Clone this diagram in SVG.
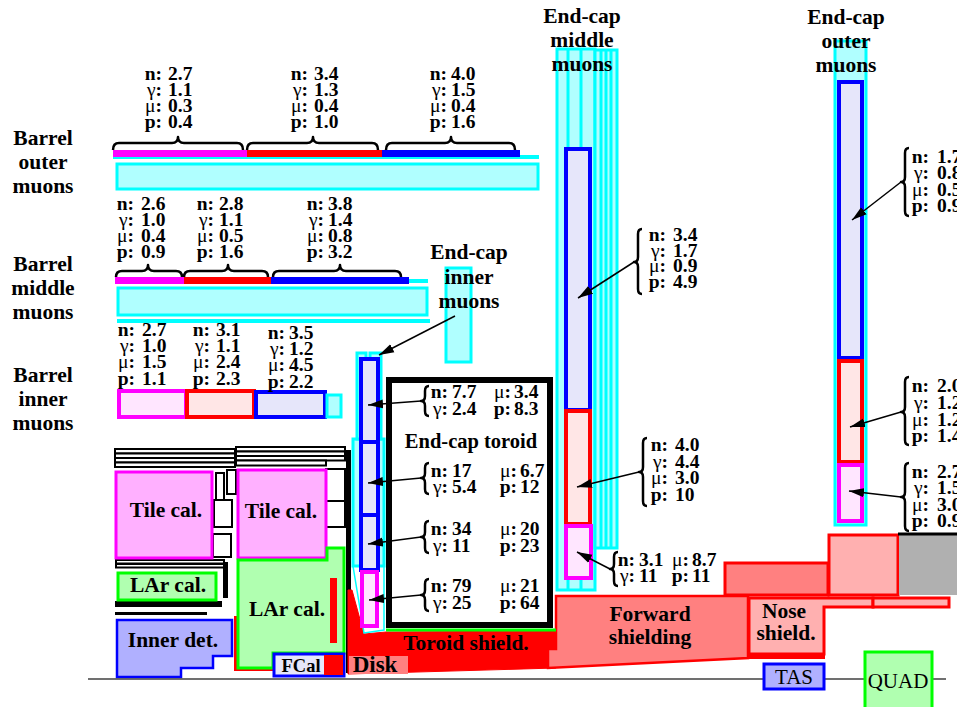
<svg xmlns="http://www.w3.org/2000/svg" width="957" height="707" viewBox="0 0 957 707">
<defs>
<marker id="ah" markerUnits="userSpaceOnUse" markerWidth="16" markerHeight="10" viewBox="0 0 16 10" refX="15" refY="5" orient="auto"><path d="M0,0.5 L15,5 L0,9.5 z" fill="#000"/></marker>
<style>
text{font-family:"Liberation Serif","Times New Roman",serif;font-weight:bold;fill:#000}
.lab{font-size:21.5px;text-anchor:middle}
.d{font-size:19.5px}
.e{text-anchor:end}
.g{font-weight:normal}
.pl{font-weight:normal;font-size:21px;text-anchor:middle}
.br{fill:none;stroke:#000;stroke-width:2.5;stroke-linejoin:round}
.ar{fill:none;stroke:#000;stroke-width:1.5;marker-end:url(#ah)}
.cy{fill:#b0ffff;stroke:#00ffff;stroke-width:3}
.cyl{stroke:#00ffff;stroke-width:3;fill:none}
.chb{fill:#e6e6fa;stroke:#0000ff;stroke-width:4}
.chr{fill:#ffe6e6;stroke:#ff0000;stroke-width:4}
.chm{fill:#ffe6ff;stroke:#ff00ff;stroke-width:4}
.bk{fill:#fff;stroke:#000;stroke-width:2}
</style>
</defs>
<rect width="957" height="707" fill="#fff"/>

<g id="barrel-outer">
<text class="lab" x="43" y="145">Barrel</text>
<text class="lab" x="43" y="169">outer</text>
<text class="lab" x="43" y="193">muons</text>
<line x1="113" y1="157" x2="539" y2="157" stroke="#00ffff" stroke-width="4"/>
<rect x="113" y="150" width="134" height="7" fill="#ff00ff"/>
<rect x="247" y="150" width="135" height="7" fill="#ff0000"/>
<rect x="382" y="150" width="138" height="7" fill="#0000ff"/>
<rect class="cy" x="117" y="164" width="421" height="25" stroke-width="4"/>
<path class="br" d="M113,150 Q113,143 119,143 L172,143 Q178,143 178,137 Q178,143 184,143 L237,143 Q243,143 243,150"/>
<path class="br" d="M247,150 Q247,143 253,143 L307,143 Q313,143 313,137 Q313,143 319,143 L372,143 Q378,143 378,150"/>
<path class="br" d="M386,150 Q386,143 392,143 L445,143 Q451,143 451,137 Q451,143 457,143 L509,143 Q515,143 515,150"/>
<text class="d e"><tspan x="162" y="80">n:</tspan><tspan x="162" y="96"><tspan class="g">γ</tspan>:</tspan><tspan x="162" y="112"><tspan class="g">μ</tspan>:</tspan><tspan x="162" y="128">p:</tspan></text>
<text class="d"><tspan x="168" y="80">2.7</tspan><tspan x="168" y="96">1.1</tspan><tspan x="168" y="112">0.3</tspan><tspan x="168" y="128">0.4</tspan></text>
<text class="d e"><tspan x="308" y="80">n:</tspan><tspan x="308" y="96"><tspan class="g">γ</tspan>:</tspan><tspan x="308" y="112"><tspan class="g">μ</tspan>:</tspan><tspan x="308" y="128">p:</tspan></text>
<text class="d"><tspan x="314" y="80">3.4</tspan><tspan x="314" y="96">1.3</tspan><tspan x="314" y="112">0.4</tspan><tspan x="314" y="128">1.0</tspan></text>
<text class="d e"><tspan x="447" y="80">n:</tspan><tspan x="447" y="96"><tspan class="g">γ</tspan>:</tspan><tspan x="447" y="112"><tspan class="g">μ</tspan>:</tspan><tspan x="447" y="128">p:</tspan></text>
<text class="d"><tspan x="451" y="80">4.0</tspan><tspan x="451" y="96">1.5</tspan><tspan x="451" y="112">0.4</tspan><tspan x="451" y="128">1.6</tspan></text>
</g>

<g id="barrel-middle">
<text class="lab" x="43" y="271">Barrel</text>
<text class="lab" x="43" y="295">middle</text>
<text class="lab" x="43" y="319">muons</text>
<line x1="115" y1="281" x2="428" y2="281" stroke="#00ffff" stroke-width="4"/>
<rect x="115" y="277" width="69" height="7" fill="#ff00ff"/>
<rect x="184" y="277" width="87" height="7" fill="#ff0000"/>
<rect x="271" y="277" width="138" height="7" fill="#0000ff"/>
<rect class="cy" x="118" y="288" width="309" height="27" stroke-width="4"/>
<line x1="117" y1="321" x2="430" y2="321" stroke="#00ffff" stroke-width="4"/>
<path class="br" d="M116,277 Q116,271 122,271 L142,271 Q148,271 148,265 Q148,271 154,271 L176,271 Q182,271 182,277"/>
<path class="br" d="M184,277 Q184,271 190,271 L222,271 Q228,271 228,265 Q228,271 234,271 L262,271 Q268,271 268,277"/>
<path class="br" d="M273,277 Q273,271 279,271 L334,271 Q340,271 340,265 Q340,271 346,271 L395,271 Q401,271 401,277"/>
<text class="d e"><tspan x="134" y="210">n:</tspan><tspan x="134" y="226"><tspan class="g">γ</tspan>:</tspan><tspan x="134" y="242"><tspan class="g">μ</tspan>:</tspan><tspan x="134" y="258">p:</tspan></text>
<text class="d"><tspan x="141" y="210">2.6</tspan><tspan x="141" y="226">1.0</tspan><tspan x="141" y="242">0.4</tspan><tspan x="141" y="258">0.9</tspan></text>
<text class="d e"><tspan x="214" y="210">n:</tspan><tspan x="214" y="226"><tspan class="g">γ</tspan>:</tspan><tspan x="214" y="242"><tspan class="g">μ</tspan>:</tspan><tspan x="214" y="258">p:</tspan></text>
<text class="d"><tspan x="219" y="210">2.8</tspan><tspan x="219" y="226">1.1</tspan><tspan x="219" y="242">0.5</tspan><tspan x="219" y="258">1.6</tspan></text>
<text class="d e"><tspan x="324" y="210">n:</tspan><tspan x="324" y="226"><tspan class="g">γ</tspan>:</tspan><tspan x="324" y="242"><tspan class="g">μ</tspan>:</tspan><tspan x="324" y="258">p:</tspan></text>
<text class="d"><tspan x="328" y="210">3.8</tspan><tspan x="328" y="226">1.4</tspan><tspan x="328" y="242">0.8</tspan><tspan x="328" y="258">3.2</tspan></text>
</g>

<g id="barrel-inner">
<text class="lab" x="43" y="382">Barrel</text>
<text class="lab" x="43" y="406">inner</text>
<text class="lab" x="43" y="430">muons</text>
<rect class="chm" x="119" y="391" width="67" height="26" stroke-width="3.5"/>
<rect class="chr" x="187" y="391" width="67" height="26" stroke-width="3.5"/>
<rect class="chb" x="256" y="392" width="69" height="25" stroke-width="3.5"/>
<rect class="cy" x="327" y="395" width="14" height="22"/>
<text class="d e"><tspan x="135" y="336">n:</tspan><tspan x="135" y="352"><tspan class="g">γ</tspan>:</tspan><tspan x="135" y="368"><tspan class="g">μ</tspan>:</tspan><tspan x="135" y="385">p:</tspan></text>
<text class="d"><tspan x="142" y="336">2.7</tspan><tspan x="142" y="352">1.0</tspan><tspan x="142" y="368">1.5</tspan><tspan x="142" y="385">1.1</tspan></text>
<text class="d e"><tspan x="210" y="336">n:</tspan><tspan x="210" y="352"><tspan class="g">γ</tspan>:</tspan><tspan x="210" y="368"><tspan class="g">μ</tspan>:</tspan><tspan x="210" y="385">p:</tspan></text>
<text class="d"><tspan x="216" y="336">3.1</tspan><tspan x="216" y="352">1.1</tspan><tspan x="216" y="368">2.4</tspan><tspan x="216" y="385">2.3</tspan></text>
<text class="d e"><tspan x="285" y="339">n:</tspan><tspan x="285" y="355"><tspan class="g">γ</tspan>:</tspan><tspan x="285" y="371"><tspan class="g">μ</tspan>:</tspan><tspan x="285" y="388">p:</tspan></text>
<text class="d"><tspan x="289" y="339">3.5</tspan><tspan x="289" y="355">1.2</tspan><tspan x="289" y="371">4.5</tspan><tspan x="289" y="388">2.2</tspan></text>
</g>

<g id="endcap-inner-label">
<rect class="cy" x="446" y="268" width="25" height="94"/>
<text class="lab" x="469" y="259">End-cap</text>
<text class="lab" x="469" y="284">inner</text>
<text class="lab" x="469" y="308">muons</text>
</g>

<g id="calorimeter-frame">
<rect class="bk" x="115" y="449" width="120" height="4.5"/>
<rect class="bk" x="115" y="453.5" width="120" height="4.5"/>
<rect class="bk" x="115" y="458" width="120" height="4.5"/>
<rect class="bk" x="115" y="462.5" width="120" height="4.5"/>
<rect class="bk" x="236" y="447" width="109" height="4.5"/>
<rect class="bk" x="236" y="451.5" width="109" height="4.5"/>
<rect class="bk" x="236" y="456" width="109" height="4.5"/>
<rect class="bk" x="236" y="460.5" width="90" height="5"/>
<rect class="bk" x="216" y="473" width="8" height="27"/>
<rect class="bk" x="227" y="470" width="9" height="24"/>
<rect class="bk" x="214" y="500" width="18" height="27"/>
<rect class="bk" x="213" y="534" width="18" height="23"/>
<rect class="bk" x="326" y="469" width="19" height="32"/>
<rect class="bk" x="326" y="501" width="19" height="26"/>
<rect class="bk" x="116" y="560" width="108" height="3.5"/>
<rect class="bk" x="116" y="564" width="108" height="3.5"/>
<rect x="223" y="562" width="5" height="36" fill="#000"/>
<rect x="115" y="601" width="107" height="6" fill="#000"/>
<rect x="115" y="612" width="92" height="3" fill="#000"/>
<rect x="346" y="450" width="5" height="223" fill="#000"/>
</g>

<g id="tile-cal-left">
<rect x="116" y="472" width="96" height="86" fill="#ffb0ff" stroke="#ff00ff" stroke-width="3"/>
<text class="lab" x="166" y="517">Tile cal.</text>
</g>
<g id="tile-cal-right">
<rect x="238" y="470" width="88" height="88" fill="#ffb0ff" stroke="#ff00ff" stroke-width="3"/>
<text class="lab" x="281" y="518">Tile cal.</text>
</g>
<g id="lar-cal-left">
<rect x="118" y="573" width="98" height="27" fill="#b0ffb0" stroke="#00ff00" stroke-width="3"/>
<text class="lab" x="168" y="592">LAr cal.</text>
</g>
<g id="lar-cal-right">
<rect x="234" y="616" width="4" height="54" fill="#ff0000"/>
<rect x="234" y="667" width="39" height="4" fill="#ff0000"/>
<polygon points="238,560 327,560 327,548 344,548 344,653 273,653 273,668 238,668" fill="#b0ffb0" stroke="#00ff00" stroke-width="3"/>
<rect x="330" y="578" width="7" height="65" fill="#ff0000"/>
<text class="lab" x="287" y="616">LAr cal.</text>
</g>
<g id="inner-det">
<polygon points="117,620 232,620 232,656 213,656 213,668 181,668 181,677 117,677" fill="#b0b0ff" stroke="#0000ff" stroke-width="2.5"/>
<text class="lab" x="173" y="647">Inner det.</text>
</g>
<g id="fcal">
<rect x="274" y="654" width="70" height="22" fill="#e6e6fa" stroke="#0000ff" stroke-width="3"/>
<rect x="324" y="655" width="19" height="20" fill="#ff0000"/>
<text class="lab" x="301" y="672" style="font-size:18.5px">FCal</text>
</g>

<g id="beam-line">
<line x1="88" y1="679" x2="946" y2="679" stroke="#404040" stroke-width="1.5"/>
</g>

<g id="toroid-shield">
<polygon points="352,590 364,634 386,632 556,631 556,668 348,674 348,590" fill="#ff0000" stroke="#ff0000" stroke-width="1"/>
<text class="lab" x="466" y="650">Toroid shield.</text>
</g>
<g id="disk">
<rect x="349" y="656" width="59" height="18" fill="#ff8080"/>
<text class="lab" x="375" y="672" style="font-size:23px">Disk</text>
</g>

<g id="forward-shielding">
<polygon points="556,596 748,596 748,658 548,668 548,649 556,649" fill="#ff8080" stroke="#ff0000" stroke-width="2.5"/>
<text class="lab" x="650" y="621">Forward</text>
<text class="lab" x="650" y="644">shielding</text>
</g>
<g id="nose-shield">
<polygon points="749,598 873,598 873,607 824,607 824,654 749,654" fill="#ffb0b0" stroke="#ff0000" stroke-width="3"/>
<rect x="873" y="598" width="76" height="9" fill="#ffb0b0" stroke="#ff0000" stroke-width="3"/>
<rect x="748" y="653" width="77" height="6" fill="#ff0000"/>
<text class="lab" x="784" y="618">Nose</text>
<text class="lab" x="786" y="640">shield.</text>
</g>
<g id="shield-blocks">
<rect x="725" y="563" width="103" height="32" fill="#ff8080" stroke="#ff0000" stroke-width="3"/>
<rect x="829" y="535" width="69" height="60" fill="#ffb0b0" stroke="#ff0000" stroke-width="3"/>
<rect x="899" y="535" width="60" height="60" fill="#b0b0b0"/>
<line x1="898" y1="534" x2="957" y2="534" stroke="#000" stroke-width="3"/>
</g>
<g id="tas">
<rect x="764" y="664" width="60" height="25" fill="#b0b0ff" stroke="#0000ff" stroke-width="3"/>
<text class="pl" x="794" y="684">TAS</text>
</g>
<g id="quad">
<rect x="865" y="652" width="67" height="58" fill="#b0ffb0" stroke="#00ff00" stroke-width="3"/>
<text class="pl" x="898" y="688">QUAD</text>
</g>

<g id="endcap-inner-chambers">
<polygon points="353,566 384,566 384,630 364,633" fill="#fff" stroke="#00ffff" stroke-width="1.5"/>
<rect class="cy" x="353" y="439" width="31" height="127"/>
<rect class="cy" x="357" y="353" width="9" height="86" stroke-width="2.5"/>
<rect class="cy" x="370" y="353" width="11" height="86" stroke-width="2.5"/>
<rect class="chb" x="361" y="359" width="17" height="83"/>
<rect class="chb" x="361" y="442" width="17" height="73"/>
<rect class="chb" x="361" y="515" width="17" height="55"/>
<rect class="chm" x="362" y="572" width="15" height="54" stroke-width="3.5"/>
</g>

<g id="endcap-toroid">
<rect x="389" y="380" width="161" height="245" fill="#fff" stroke="#000" stroke-width="6"/>
<line x1="386" y1="630" x2="556" y2="630" stroke="#00ff00" stroke-width="3"/>
<text class="lab" x="471" y="448" style="font-size:20.5px">End-cap toroid</text>
<path class="br" d="M429,386 Q425,386 425,391 L425,396 Q425,401 421,401 Q425,401 425,406 L425,411 Q425,416 429,416"/>
<path class="br" d="M429,463 Q425,463 425,468 L425,473 Q425,478 421,478 Q425,478 425,483 L425,489 Q425,494 429,494"/>
<path class="br" d="M429,521 Q425,521 425,526 L425,532 Q425,537 421,537 Q425,537 425,542 L425,548 Q425,553 429,553"/>
<path class="br" d="M429,579 Q425,579 425,584 L425,590 Q425,595 421,595 Q425,595 425,600 L425,606 Q425,611 429,611"/>
<text class="d e"><tspan x="448" y="398">n:</tspan><tspan x="448" y="415"><tspan class="g">γ</tspan>:</tspan><tspan x="448" y="477">n:</tspan><tspan x="448" y="493"><tspan class="g">γ</tspan>:</tspan><tspan x="448" y="535">n:</tspan><tspan x="448" y="552"><tspan class="g">γ</tspan>:</tspan><tspan x="448" y="592">n:</tspan><tspan x="448" y="609"><tspan class="g">γ</tspan>:</tspan></text>
<text class="d"><tspan x="452" y="398">7.7</tspan><tspan x="452" y="415">2.4</tspan><tspan x="452" y="477">17</tspan><tspan x="452" y="493">5.4</tspan><tspan x="452" y="535">34</tspan><tspan x="452" y="552">11</tspan><tspan x="452" y="592">79</tspan><tspan x="452" y="609">25</tspan></text>
<text class="d e"><tspan x="511" y="398"><tspan class="g">μ</tspan>:</tspan><tspan x="511" y="415">p:</tspan><tspan x="517" y="477"><tspan class="g">μ</tspan>:</tspan><tspan x="517" y="493">p:</tspan><tspan x="517" y="535"><tspan class="g">μ</tspan>:</tspan><tspan x="517" y="552">p:</tspan><tspan x="517" y="592"><tspan class="g">μ</tspan>:</tspan><tspan x="517" y="609">p:</tspan></text>
<text class="d"><tspan x="514" y="398">3.4</tspan><tspan x="514" y="415">8.3</tspan><tspan x="520" y="477">6.7</tspan><tspan x="520" y="493">12</tspan><tspan x="520" y="535">20</tspan><tspan x="520" y="552">23</tspan><tspan x="520" y="592">21</tspan><tspan x="520" y="609">64</tspan></text>
</g>

<g id="endcap-middle">
<rect class="cy" x="557" y="49" width="38" height="541"/>
<rect class="cy" x="595" y="50" width="22" height="498"/>
<line class="cyl" x1="568" y1="49" x2="568" y2="590"/>
<line class="cyl" x1="581" y1="49" x2="581" y2="590"/>
<line class="cyl" x1="601" y1="50" x2="601" y2="548"/>
<line class="cyl" x1="606" y1="50" x2="606" y2="548"/>
<line class="cyl" x1="611" y1="50" x2="611" y2="548"/>
<rect class="chb" x="566" y="149" width="24" height="261"/>
<rect class="chr" x="566" y="411" width="24" height="113"/>
<rect class="chm" x="566" y="526" width="25" height="52"/>
<text class="lab" x="582" y="23">End-cap</text>
<text class="lab" x="582" y="47">middle</text>
<text class="lab" x="582" y="71">muons</text>
<path class="br" d="M642,229 Q638,229 638,234 L638,257 Q638,262 634,262 Q638,262 638,267 L638,289 Q638,294 642,294"/>
<path class="br" d="M647,438 Q643,438 643,443 L643,467 Q643,472 639,472 Q643,472 643,477 L643,501 Q643,506 647,506"/>
<path class="br" d="M618,552 Q614,552 614,557 L614,564 Q614,569 610,569 Q614,569 614,574 L614,581 Q614,586 618,586"/>
<text class="d e"><tspan x="666" y="241">n:</tspan><tspan x="666" y="257"><tspan class="g">γ</tspan>:</tspan><tspan x="666" y="272"><tspan class="g">μ</tspan>:</tspan><tspan x="666" y="288">p:</tspan></text>
<text class="d"><tspan x="673" y="241">3.4</tspan><tspan x="673" y="257">1.7</tspan><tspan x="673" y="272">0.9</tspan><tspan x="673" y="288">4.9</tspan></text>
<text class="d e"><tspan x="668" y="451">n:</tspan><tspan x="668" y="468"><tspan class="g">γ</tspan>:</tspan><tspan x="668" y="484"><tspan class="g">μ</tspan>:</tspan><tspan x="668" y="501">p:</tspan></text>
<text class="d"><tspan x="675" y="451">4.0</tspan><tspan x="675" y="468">4.4</tspan><tspan x="675" y="484">3.0</tspan><tspan x="675" y="501">10</tspan></text>
<text class="d e"><tspan x="635" y="566">n:</tspan><tspan x="635" y="582"><tspan class="g">γ</tspan>:</tspan><tspan x="689" y="566"><tspan class="g">μ</tspan>:</tspan><tspan x="689" y="582">p:</tspan></text>
<text class="d"><tspan x="639" y="566">3.1</tspan><tspan x="639" y="582">11</tspan><tspan x="692" y="566">8.7</tspan><tspan x="692" y="582">11</tspan></text>
</g>

<g id="endcap-outer">
<rect class="cy" x="835" y="41" width="31" height="484"/>
<rect class="chb" x="839" y="82" width="23" height="276"/>
<rect class="chr" x="839" y="361" width="23" height="101"/>
<rect class="chm" x="839" y="465" width="23" height="56"/>
<text class="lab" x="846" y="24">End-cap</text>
<text class="lab" x="846" y="48">outer</text>
<text class="lab" x="846" y="72">muons</text>
<path class="br" d="M909,148 Q905,148 905,153 L905,177 Q905,182 901,182 Q905,182 905,187 L905,211 Q905,216 909,216"/>
<path class="br" d="M909,377 Q905,377 905,382 L905,407 Q905,412 901,412 Q905,412 905,417 L905,440 Q905,445 909,445"/>
<path class="br" d="M909,463 Q905,463 905,468 L905,492 Q905,497 901,497 Q905,497 905,502 L905,526 Q905,531 909,531"/>
<text class="d e"><tspan x="929" y="163">n:</tspan><tspan x="929" y="179"><tspan class="g">γ</tspan>:</tspan><tspan x="929" y="196"><tspan class="g">μ</tspan>:</tspan><tspan x="929" y="212">p:</tspan></text>
<text class="d"><tspan x="937" y="163">1.7</tspan><tspan x="937" y="179">0.8</tspan><tspan x="937" y="196">0.5</tspan><tspan x="937" y="212">0.9</tspan></text>
<text class="d e"><tspan x="929" y="392">n:</tspan><tspan x="929" y="409"><tspan class="g">γ</tspan>:</tspan><tspan x="929" y="426"><tspan class="g">μ</tspan>:</tspan><tspan x="929" y="442">p:</tspan></text>
<text class="d"><tspan x="937" y="392">2.0</tspan><tspan x="937" y="409">1.2</tspan><tspan x="937" y="426">1.2</tspan><tspan x="937" y="442">1.4</tspan></text>
<text class="d e"><tspan x="929" y="478">n:</tspan><tspan x="929" y="494"><tspan class="g">γ</tspan>:</tspan><tspan x="929" y="511"><tspan class="g">μ</tspan>:</tspan><tspan x="929" y="527">p:</tspan></text>
<text class="d"><tspan x="937" y="478">2.7</tspan><tspan x="937" y="494">1.5</tspan><tspan x="937" y="511">3.0</tspan><tspan x="937" y="527">0.9</tspan></text>
</g>

<g id="connectors">
<line class="ar" x1="455" y1="316" x2="379" y2="355"/>
<line class="ar" x1="421" y1="401" x2="368" y2="405"/>
<line class="ar" x1="421" y1="478" x2="368" y2="483"/>
<line class="ar" x1="421" y1="537" x2="368" y2="544"/>
<line class="ar" x1="421" y1="595" x2="369" y2="600"/>
<line class="ar" x1="634" y1="262" x2="578" y2="298"/>
<line class="ar" x1="639" y1="472" x2="577" y2="487"/>
<line class="ar" x1="610" y1="569" x2="577" y2="552"/>
<line class="ar" x1="901" y1="182" x2="852" y2="220"/>
<line class="ar" x1="901" y1="412" x2="850" y2="427"/>
<line class="ar" x1="901" y1="497" x2="849" y2="491"/>
</g>
</svg>
